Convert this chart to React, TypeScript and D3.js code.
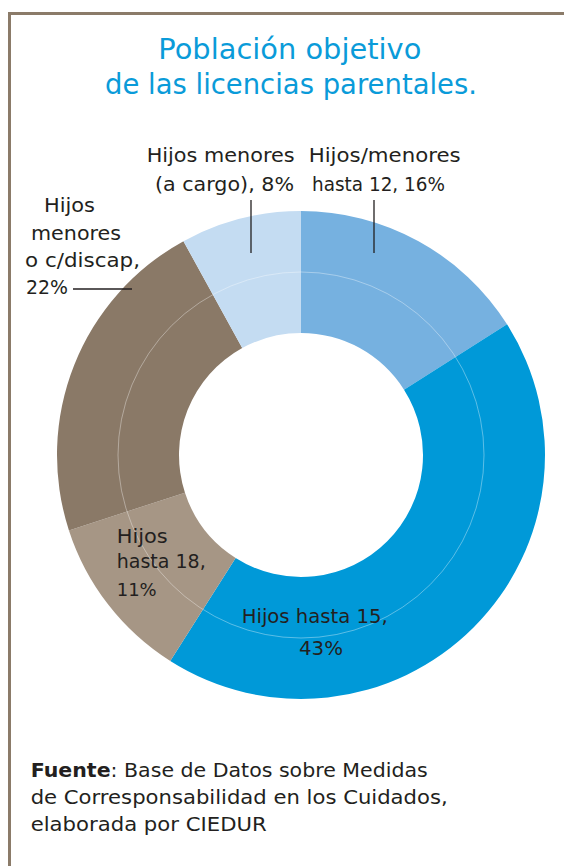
import React from "react";
import * as d3 from "d3";

const categories = [
  "Hijos/menores hasta 12",
  "Hijos hasta 15",
  "Hijos hasta 18",
  "Hijos menores o c/discap",
  "Hijos menores (a cargo)",
];
const values = [16, 43, 11, 22, 8];
const colors = ["#76b1e0", "#0099d8", "#a69685", "#8a7967", "#c4dcf2"];
const titleLines = ["Población objetivo", "de las licencias parentales."];
const sourceLines = [
  "Base de Datos sobre Medidas",
  "de Corresponsabilidad en los Cuidados,",
  "elaborada por CIEDUR",
];

const W = 564;
const H = 866;
const FONT = "'DejaVu Sans', sans-serif";

type Line = { t: React.ReactNode; x: number; y: number; w?: number };

export default function App() {
  const cx = 301;
  const cy = 455;
  const rIn = 122;
  const rOut = 244;
  const pie = d3
    .pie<number>()
    .sort(null)
    .value((d) => d)
    .startAngle(0)
    .endAngle(2 * Math.PI);
  const arcs = pie(values);
  const arc = d3.arc<d3.PieArcDatum<number>>().innerRadius(rIn).outerRadius(rOut);
  const fmt = (i: number) => `${values[i]}%`;

  const labelFs = 19.3;
  const textColor = "#231f20";

  const labels: Line[] = [
    { t: "Hijos menores", x: 146.7, y: 162, w: 148 },
    { t: `(a cargo), ${fmt(4)}`, x: 155, y: 191, w: 139 },
    { t: "Hijos/menores", x: 308.7, y: 162, w: 152 },
    { t: `hasta 12, ${fmt(0)}`, x: 312, y: 191, w: 133 },
    { t: "Hijos", x: 44, y: 212, w: 51 },
    { t: "menores", x: 31, y: 240, w: 90 },
    { t: "o c/discap,", x: 25, y: 267, w: 115 },
    { t: fmt(3), x: 26, y: 294, w: 42 },
    { t: "Hijos", x: 116.7, y: 543, w: 51 },
    { t: "hasta 18,", x: 116.7, y: 568, w: 89 },
    { t: fmt(2), x: 116.7, y: 596 },
    { t: "Hijos hasta 15,", x: 241.7, y: 623, w: 146 },
    { t: fmt(1), x: 299, y: 655, w: 44 },
  ];

  return (
    <svg
      width={W}
      height={H}
      style={{ position: "absolute", left: 0, top: 0, background: "#fff" }}
      fontFamily={FONT}
    >
      <rect width={W} height={H} fill="#fff" />
      {/* frame */}
      <line x1={8} x2={W} y1={13.5} y2={13.5} stroke="#8b7b69" strokeWidth={3} />
      <line x1={9.5} x2={9.5} y1={12} y2={H} stroke="#8b7b69" strokeWidth={3} />

      {/* title */}
      <g fill="#0a9bd9" fontSize={28.5}>
        <text x={158.3} y={58.5} textLength={263} lengthAdjust="spacingAndGlyphs">
          {titleLines[0]}
        </text>
        <text x={105} y={93.5} textLength={372} lengthAdjust="spacingAndGlyphs">
          {titleLines[1]}
        </text>
      </g>

      {/* donut */}
      <g transform={`translate(${cx},${cy})`}>
        {arcs.map((a, i) => (
          <path key={categories[i]} d={arc(a) || ""} fill={colors[i]} />
        ))}
        <circle r={183} fill="none" stroke="#fff" strokeOpacity={0.45} strokeWidth={0.8} />
      </g>

      {/* labels */}
      <g fill={textColor} fontSize={labelFs}>
        {labels.map((l, i) =>
          l.w ? (
            <text key={i} x={l.x} y={l.y} textLength={l.w} lengthAdjust="spacingAndGlyphs">
              {l.t}
            </text>
          ) : (
            <text key={i} x={l.x} y={l.y} fontSize={18}>
              {l.t}
            </text>
          )
        )}
      </g>
      <g stroke={textColor} strokeWidth={1.3}>
        <line x1={251} x2={251} y1={200} y2={253} />
        <line x1={374} x2={374} y1={200} y2={253} />
        <line x1={73} x2={132} y1={289} y2={289} />
      </g>

      {/* source */}
      <g fill={textColor} fontSize={19.3}>
        <text x={30.7} y={777} textLength={397} lengthAdjust="spacingAndGlyphs">
          <tspan fontWeight={700}>Fuente</tspan>: {sourceLines[0]}
        </text>
        <text x={30.7} y={804} textLength={417} lengthAdjust="spacingAndGlyphs">
          {sourceLines[1]}
        </text>
        <text x={30.7} y={830.5} textLength={236} lengthAdjust="spacingAndGlyphs">
          {sourceLines[2]}
        </text>
      </g>
    </svg>
  );
}
